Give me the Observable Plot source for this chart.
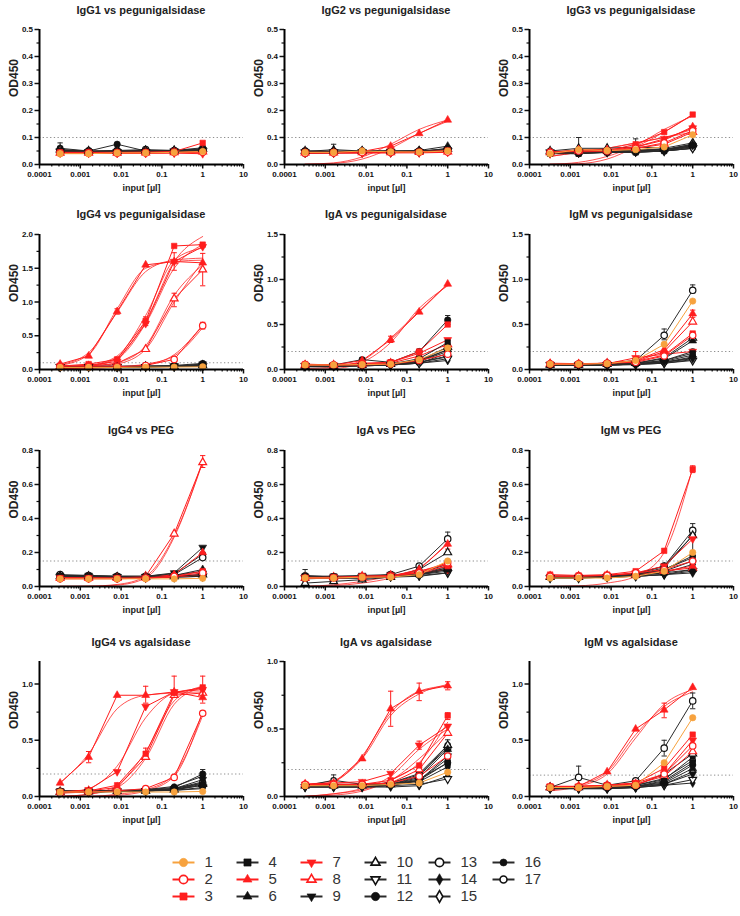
<!DOCTYPE html>
<html><head><meta charset="utf-8">
<script src="https://cdn.jsdelivr.net/npm/d3@7"></script>
<script src="https://cdn.jsdelivr.net/npm/@observablehq/plot@0.6"></script>
<style>
body{margin:0;background:#fff;font-family:"Liberation Sans",Arial,sans-serif;}
#root{position:relative;width:740px;height:916px;overflow:hidden;background:#fff}
.panel{position:absolute}
.title{position:absolute;width:204px;text-align:center;font-weight:bold;font-size:11px;color:#222;line-height:12px;white-space:nowrap}
</style></head><body><div id="root"></div>
<script>
// ---------- data ----------
const inputs = [0.00032, 0.0016, 0.008, 0.04, 0.2, 1];
const xTickValues = [0.0001, 0.001, 0.01, 0.1, 1, 10];
const xTickLabels = ["0.0001", "0.001", "0.01", "0.1", "1", "10"];
const seriesNames = ["1","2","3","4","5","6","7","8","9","10","11","12","13","14","15","16","17"];
const panelTitles = ["IgG1 vs pegunigalsidase","IgG2 vs pegunigalsidase","IgG3 vs pegunigalsidase",
  "IgG4 vs pegunigalsidase","IgA vs pegunigalsidase","IgM vs pegunigalsidase",
  "IgG4 vs PEG","IgA vs PEG","IgM vs PEG",
  "IgG4 vs agalsidase","IgA vs agalsidase","IgM vs agalsidase"];
const panelYMax = [0.5,0.5,0.5, 2.0,1.5,1.5, 0.8,0.8,0.8, 1.2,1.0,1.2];
const panelYStep = [0.1,0.1,0.1, 0.5,0.5,0.5, 0.2,0.2,0.2, 0.5,0.5,0.5];
const panelThreshold = [0.1,0.1,0.1, 0.1,0.2,0.2, 0.15,0.15,0.15, 0.2,0.2,0.19];

const igG1Peg = [
 [0.040,0.040,0.043,0.043,0.045,0.048],[0.042,0.042,0.042,0.043,0.044,0.045],[0.045,0.045,0.045,0.046,0.048,0.080],
 [0.050,0.048,0.048,0.048,0.049,0.052],[0.045,0.044,0.044,0.045,0.046,0.050],[0.048,0.046,0.046,0.047,0.048,0.055],
 [0.042,0.041,0.041,0.041,0.042,0.040],[0.043,0.043,0.043,0.044,0.045,0.048],[0.050,0.047,0.048,0.048,0.050,0.055],
 [0.055,0.050,0.050,0.052,0.052,0.058],[0.048,0.046,0.046,0.047,0.048,0.050],[0.060,0.050,0.075,0.050,0.052,0.062],
 [0.052,0.050,0.052,0.055,0.052,0.055],[0.047,0.045,0.046,0.046,0.047,0.050],[0.050,0.048,0.049,0.050,0.050,0.052],
 [0.055,0.048,0.050,0.050,0.050,0.058],[0.050,0.047,0.048,0.049,0.050,0.053]];
const igG2Peg = [
 [0.045,0.045,0.050,0.047,0.046,0.050],[0.042,0.043,0.044,0.044,0.045,0.046],[0.045,0.045,0.046,0.046,0.047,0.052],
 [0.048,0.047,0.047,0.047,0.048,0.052],[0.045,0.045,0.048,0.068,0.115,0.165],[0.048,0.055,0.050,0.050,0.052,0.068],
 [0.042,0.042,0.042,0.043,0.043,0.045],[0.044,0.044,0.045,0.045,0.046,0.048],[0.046,0.046,0.046,0.047,0.048,0.055],
 [0.050,0.050,0.050,0.050,0.050,0.058],[0.045,0.045,0.046,0.046,0.047,0.050],[0.040,0.045,0.046,0.046,0.047,0.060],
 [0.050,0.048,0.050,0.050,0.050,0.055],[0.044,0.044,0.045,0.045,0.046,0.050],[0.046,0.046,0.047,0.047,0.048,0.052],
 [0.042,0.043,0.044,0.045,0.046,0.050],[0.047,0.047,0.048,0.048,0.049,0.053]];
const igG3Peg = [
 [0.040,0.055,0.052,0.055,0.065,0.110],[0.045,0.050,0.050,0.060,0.080,0.125],[0.045,0.050,0.050,0.075,0.120,0.185],
 [0.040,0.040,0.045,0.045,0.050,0.070],[0.045,0.055,0.055,0.065,0.090,0.140],[0.045,0.045,0.048,0.050,0.055,0.075],
 [0.040,0.045,0.050,0.065,0.095,0.135],[0.045,0.050,0.050,0.060,0.075,0.120],[0.045,0.045,0.048,0.050,0.055,0.070],
 [0.050,0.060,0.060,0.065,0.060,0.080],[0.045,0.045,0.046,0.048,0.050,0.060],[0.042,0.040,0.045,0.045,0.050,0.065],
 [0.048,0.050,0.050,0.055,0.055,0.070],[0.040,0.042,0.045,0.046,0.050,0.060],[0.045,0.046,0.048,0.050,0.055,0.065],
 [0.042,0.045,0.046,0.048,0.050,0.060],[0.047,0.050,0.050,0.052,0.055,0.075]];
const igG4Peg = [
 [0.030,0.030,0.030,0.035,0.035,0.040],[0.040,0.040,0.040,0.060,0.150,0.650],[0.050,0.080,0.150,0.720,1.830,1.850],
 [0.040,0.040,0.040,0.040,0.045,0.060],[0.080,0.200,0.860,1.550,1.600,1.580],[0.040,0.040,0.040,0.045,0.050,0.070],
 [0.050,0.060,0.120,0.680,1.600,1.820],[0.050,0.050,0.090,0.300,1.050,1.480],[0.040,0.040,0.040,0.045,0.050,0.080],
 [0.040,0.040,0.040,0.040,0.045,0.060],[0.040,0.040,0.040,0.040,0.045,0.050],[0.050,0.050,0.050,0.050,0.060,0.090],
 [0.040,0.040,0.045,0.050,0.050,0.060],[0.040,0.040,0.040,0.040,0.045,0.050],[0.040,0.040,0.040,0.045,0.045,0.055],
 [0.040,0.040,0.040,0.040,0.050,0.070],[0.040,0.040,0.040,0.045,0.050,0.060]];
const igAPeg = [
 [0.050,0.050,0.055,0.060,0.110,0.240],[0.050,0.050,0.050,0.060,0.100,0.170],[0.060,0.050,0.070,0.080,0.200,0.500],
 [0.040,0.040,0.050,0.060,0.120,0.300],[0.050,0.050,0.100,0.330,0.640,0.950],[0.040,0.040,0.045,0.060,0.100,0.220],
 [0.050,0.050,0.060,0.080,0.180,0.330],[0.050,0.050,0.060,0.070,0.150,0.280],[0.040,0.040,0.050,0.060,0.090,0.200],
 [0.040,0.040,0.050,0.060,0.100,0.250],[0.040,0.040,0.040,0.050,0.070,0.120],[0.050,0.050,0.110,0.080,0.200,0.550],
 [0.050,0.050,0.050,0.060,0.080,0.150],[0.030,0.030,0.040,0.050,0.070,0.100],[0.040,0.040,0.040,0.050,0.080,0.140],
 [0.040,0.040,0.050,0.050,0.070,0.180],[0.040,0.040,0.050,0.060,0.090,0.220]];
const igMPeg = [
 [0.060,0.060,0.065,0.100,0.280,0.760],[0.060,0.060,0.070,0.080,0.150,0.380],[0.060,0.060,0.070,0.090,0.160,0.400],
 [0.050,0.050,0.055,0.060,0.100,0.180],[0.070,0.065,0.070,0.100,0.220,0.620],[0.050,0.050,0.060,0.070,0.120,0.320],
 [0.060,0.060,0.065,0.130,0.170,0.200],[0.060,0.060,0.070,0.090,0.200,0.530],[0.050,0.050,0.050,0.060,0.080,0.120],
 [0.050,0.050,0.060,0.070,0.130,0.350],[0.050,0.050,0.050,0.055,0.070,0.100],[0.050,0.050,0.050,0.060,0.080,0.140],
 [0.060,0.060,0.070,0.100,0.380,0.880],[0.050,0.050,0.050,0.055,0.070,0.110],[0.050,0.050,0.050,0.060,0.080,0.130],
 [0.050,0.050,0.050,0.060,0.090,0.160],[0.050,0.050,0.060,0.070,0.100,0.200]];
const igG4PEG = [
 [0.045,0.045,0.045,0.045,0.045,0.048],[0.045,0.045,0.045,0.050,0.060,0.080],[0.050,0.050,0.050,0.050,0.060,0.090],
 [0.060,0.060,0.055,0.055,0.060,0.070],[0.050,0.050,0.050,0.050,0.070,0.200],[0.060,0.055,0.055,0.055,0.065,0.100],
 [0.050,0.050,0.050,0.050,0.055,0.070],[0.050,0.050,0.050,0.060,0.310,0.730],[0.065,0.065,0.060,0.060,0.080,0.230],
 [0.060,0.060,0.055,0.055,0.060,0.070],[0.055,0.055,0.055,0.055,0.055,0.060],[0.060,0.060,0.055,0.055,0.060,0.065],
 [0.070,0.065,0.060,0.060,0.070,0.170],[0.055,0.055,0.050,0.050,0.055,0.060],[0.060,0.055,0.055,0.055,0.060,0.065],
 [0.060,0.060,0.055,0.055,0.065,0.090],[0.065,0.060,0.060,0.060,0.075,0.190]];
const igAPEG = [
 [0.050,0.050,0.055,0.055,0.070,0.150],[0.050,0.050,0.055,0.060,0.080,0.140],[0.050,0.055,0.060,0.065,0.080,0.120],
 [0.060,0.060,0.060,0.065,0.070,0.100],[0.050,0.050,0.055,0.060,0.100,0.250],[0.050,0.050,0.050,0.055,0.070,0.110],
 [0.055,0.055,0.060,0.065,0.080,0.100],[0.050,0.055,0.060,0.065,0.090,0.130],[0.060,0.060,0.065,0.070,0.070,0.090],
 [0.020,0.030,0.040,0.055,0.100,0.200],[0.050,0.050,0.055,0.060,0.065,0.080],[0.065,0.055,0.050,0.060,0.070,0.120],
 [0.050,0.050,0.055,0.070,0.120,0.280],[0.045,0.050,0.050,0.055,0.060,0.080],[0.050,0.050,0.055,0.060,0.070,0.110],
 [0.055,0.055,0.060,0.060,0.070,0.100],[0.050,0.055,0.060,0.065,0.080,0.130]];
const igMPEG = [
 [0.050,0.050,0.050,0.060,0.090,0.200],[0.060,0.060,0.065,0.080,0.100,0.150],[0.070,0.065,0.070,0.090,0.210,0.690],
 [0.055,0.055,0.060,0.070,0.100,0.170],[0.060,0.060,0.065,0.075,0.090,0.120],[0.055,0.055,0.060,0.065,0.080,0.100],
 [0.060,0.060,0.065,0.080,0.120,0.280],[0.060,0.060,0.065,0.070,0.090,0.110],[0.055,0.055,0.055,0.060,0.070,0.080],
 [0.055,0.055,0.060,0.070,0.110,0.300],[0.050,0.050,0.055,0.060,0.070,0.090],[0.055,0.055,0.060,0.065,0.090,0.150],
 [0.060,0.060,0.065,0.075,0.120,0.330],[0.050,0.050,0.055,0.060,0.070,0.100],[0.055,0.055,0.060,0.065,0.080,0.130],
 [0.060,0.060,0.060,0.070,0.100,0.180],[0.060,0.060,0.065,0.075,0.120,0.300]];
const igG4Agal = [
 [0.040,0.040,0.040,0.040,0.040,0.045],[0.030,0.040,0.050,0.070,0.170,0.740],[0.040,0.050,0.100,0.380,0.920,0.970],
 [0.040,0.040,0.045,0.050,0.060,0.100],[0.120,0.350,0.900,0.900,0.930,0.880],[0.040,0.040,0.045,0.050,0.060,0.120],
 [0.040,0.060,0.220,0.800,0.930,0.950],[0.040,0.050,0.080,0.350,0.900,0.920],[0.050,0.050,0.050,0.055,0.070,0.150],
 [0.040,0.045,0.050,0.050,0.060,0.110],[0.040,0.040,0.045,0.050,0.055,0.080],[0.050,0.050,0.055,0.060,0.080,0.200],
 [0.040,0.045,0.050,0.055,0.070,0.120],[0.040,0.040,0.045,0.050,0.055,0.070],[0.040,0.045,0.050,0.050,0.060,0.100],
 [0.050,0.050,0.050,0.060,0.090,0.180],[0.045,0.045,0.050,0.055,0.070,0.130]];
const igAAgal = [
 [0.080,0.080,0.080,0.090,0.100,0.180],[0.090,0.090,0.090,0.100,0.150,0.300],[0.080,0.090,0.090,0.120,0.230,0.600],
 [0.080,0.080,0.080,0.090,0.120,0.250],[0.090,0.100,0.280,0.650,0.780,0.820],[0.080,0.080,0.080,0.090,0.140,0.350],
 [0.090,0.100,0.110,0.170,0.380,0.520],[0.090,0.090,0.090,0.100,0.200,0.470],[0.070,0.070,0.070,0.080,0.120,0.300],
 [0.080,0.080,0.080,0.090,0.150,0.380],[0.070,0.070,0.070,0.080,0.090,0.130],[0.080,0.080,0.080,0.090,0.130,0.250],
 [0.080,0.090,0.090,0.100,0.160,0.360],[0.070,0.070,0.070,0.070,0.080,0.150],[0.080,0.080,0.080,0.090,0.120,0.280],
 [0.080,0.080,0.080,0.090,0.110,0.220],[0.080,0.120,0.090,0.100,0.170,0.380]];
const igMAgal = [
 [0.080,0.080,0.090,0.100,0.300,0.700],[0.080,0.080,0.090,0.100,0.200,0.450],[0.090,0.090,0.100,0.120,0.250,0.550],
 [0.080,0.080,0.080,0.090,0.140,0.300],[0.080,0.090,0.220,0.600,0.770,0.970],[0.080,0.080,0.080,0.090,0.120,0.250],
 [0.090,0.090,0.100,0.120,0.200,0.500],[0.080,0.090,0.100,0.110,0.180,0.400],[0.070,0.070,0.070,0.080,0.110,0.200],
 [0.080,0.080,0.090,0.100,0.200,0.380],[0.070,0.070,0.070,0.080,0.100,0.150],[0.080,0.080,0.080,0.090,0.130,0.280],
 [0.080,0.170,0.100,0.140,0.430,0.850],[0.070,0.070,0.070,0.080,0.100,0.120],[0.080,0.080,0.080,0.090,0.110,0.220],
 [0.080,0.080,0.090,0.100,0.150,0.350],[0.080,0.080,0.090,0.100,0.160,0.320]];

// fitted curves read at the six inputs: [series, values...]
const igG1PegFits = [];
const igG2PegFits = [[5,0.001,0.006,0.028,0.075,0.130,0.165],[5,0.001,0.004,0.020,0.060,0.115,0.160]];
const igG3PegFits = [[3,0.001,0.008,0.030,0.070,0.130,0.180],[3,0.001,0.003,0.020,0.065,0.120,0.185],[7,0.030,0.045,0.060,0.080,0.100,0.130],[2,0.030,0.045,0.060,0.080,0.100,0.120]];
const igG4PegFits = [[5,0.070,0.250,0.850,1.450,1.620,1.650],[5,0.060,0.220,0.900,1.500,1.600,1.620],
  [3,0.020,0.050,0.180,0.720,1.600,1.970],[3,0.030,0.060,0.200,0.800,1.620,1.800],[7,0.030,0.050,0.160,0.680,1.500,1.850],
  [8,0.020,0.040,0.100,0.350,1.100,1.550],[8,0.010,0.030,0.080,0.300,1.000,1.600],[2,0.020,0.020,0.040,0.080,0.200,0.620],[2,0.010,0.020,0.030,0.070,0.220,0.660]];
const igAPegFits = [[5,0.001,0.010,0.080,0.300,0.680,0.930],[5,0.010,0.030,0.100,0.350,0.650,0.950]];
const igMPegFits = [];
const igG4PEGFits = [[8,0.001,0.002,0.012,0.060,0.300,0.730],[8,0.001,0.001,0.008,0.050,0.290,0.740]];
const igAPEGFits = [[5,0.001,0.005,0.020,0.050,0.110,0.260],[2,0.001,0.010,0.030,0.060,0.090,0.140]];
const igMPEGFits = [[3,0.001,0.004,0.020,0.060,0.200,0.700]];
const igG4AgalFits = [[5,0.120,0.380,0.780,0.900,0.920,0.930],[7,0.030,0.070,0.270,0.700,0.920,0.960],[3,0.001,0.020,0.100,0.400,0.850,0.980],
  [8,0.001,0.020,0.080,0.340,0.820,0.970],[2,0.001,0.001,0.020,0.060,0.200,0.720],[2,0.001,0.001,0.010,0.050,0.180,0.760]];
const igAAgalFits = [[5,0.080,0.110,0.300,0.620,0.780,0.820],[5,0.090,0.120,0.280,0.600,0.760,0.830],[7,0.001,0.020,0.060,0.150,0.350,0.500],
  [3,0.001,0.010,0.040,0.120,0.250,0.550],[8,0.001,0.020,0.050,0.120,0.280,0.480]];
const igMAgalFits = [[5,0.060,0.100,0.220,0.550,0.800,0.930],[5,0.050,0.090,0.200,0.520,0.820,0.950]];

// error bars: [series, input index, low, high]
const igG1PegErr = [[12,0,0.05,0.08],[12,1,0.045,0.06]];
const igG2PegErr = [[6,1,0.045,0.075]];
const igG3PegErr = [[10,1,0.05,0.10],[10,3,0.06,0.095]];
const igG4PegErr = [[7,4,1.47,1.73],[8,4,0.93,1.13],[8,5,1.24,1.72],[3,3,0.65,0.78],[5,2,0.82,0.90],[2,5,0.60,0.70]];
const igAPegErr = [[12,5,0.50,0.60],[12,2,0.09,0.13],[5,3,0.30,0.37]];
const igMPegErr = [[13,4,0.33,0.45],[13,5,0.85,0.94],[7,3,0.08,0.20],[5,5,0.58,0.66]];
const igG4PEGErr = [[8,5,0.70,0.77]];
const igAPEGErr = [[12,0,0.03,0.10],[13,5,0.24,0.32],[5,5,0.22,0.28]];
const igMPEGErr = [[3,5,0.67,0.71],[13,5,0.29,0.37],[10,5,0.20,0.33]];
const igG4AgalErr = [[5,1,0.30,0.40],[5,3,0.83,0.98],[7,4,0.88,1.07],[3,5,0.90,1.07],[3,3,0.33,0.43],[12,5,0.16,0.24],[5,5,0.83,0.92],[2,5,0.72,0.76]];
const igAAgalErr = [[5,3,0.52,0.78],[5,4,0.71,0.84],[5,5,0.79,0.85],[17,1,0.10,0.16],[7,4,0.35,0.41],[3,5,0.57,0.62],[10,5,0.33,0.42]];
const igMAgalErr = [[13,1,0.10,0.27],[5,4,0.70,0.83],[13,5,0.78,0.92],[13,4,0.36,0.50]];

const panelValues = [igG1Peg,igG2Peg,igG3Peg,igG4Peg,igAPeg,igMPeg,igG4PEG,igAPEG,igMPEG,igG4Agal,igAAgal,igMAgal];
const panelFits = [igG1PegFits,igG2PegFits,igG3PegFits,igG4PegFits,igAPegFits,igMPegFits,igG4PEGFits,igAPEGFits,igMPEGFits,igG4AgalFits,igAAgalFits,igMAgalFits];
const panelErrors = [igG1PegErr,igG2PegErr,igG3PegErr,igG4PegErr,igAPegErr,igMPegErr,igG4PEGErr,igAPEGErr,igMPEGErr,igG4AgalErr,igAAgalErr,igMAgalErr];

// ---------- styling ----------
const ORANGE = "#F7A23E", RED = "#FF1E1E", BLACK = "#111111";
const triangleDown = {draw(ctx, size) {
  const y = -Math.sqrt(size / (Math.sqrt(3) * 3)), s3 = Math.sqrt(3);
  ctx.moveTo(0, -y * 2); ctx.lineTo(-s3 * y, y); ctx.lineTo(s3 * y, y); ctx.closePath();
}};
const hline = {draw(ctx, size) { const r = Math.sqrt(size) / 2; ctx.moveTo(-r, 0); ctx.lineTo(r, 0); }};
function seriesStyle(s) { // s: 0-based
  const col = s === 0 ? ORANGE : [1,2,4,6,7].includes(s) ? RED : BLACK;
  const shapes = [d3.symbolCircle,d3.symbolCircle,d3.symbolSquare,d3.symbolSquare,d3.symbolTriangle,d3.symbolTriangle,
    triangleDown,d3.symbolTriangle,triangleDown,d3.symbolTriangle,triangleDown,d3.symbolCircle,d3.symbolCircle,
    d3.symbolDiamond,d3.symbolDiamond,d3.symbolCircle,d3.symbolCircle];
  const open = [1,7,9,10,12,14,16].includes(s);
  const sym = shapes[s];
  let r = 3.2;
  if (sym === d3.symbolSquare) r = 3.1;
  if (sym === d3.symbolTriangle || sym === triangleDown) r = 2.9;
  if (sym === d3.symbolDiamond) r = 2.7;
  if (s === 15 || s === 16) r = 2.7;
  return {col, sym, open, r, line: col === BLACK ? "#2a2a2a" : col};
}

// ---------- layout ----------
const colLeft = [0, 245, 490];
const rowLayout = [{top:18, mt:11, mb:34, title:4}, {top:222, mt:12, mb:33, title:208}, {top:438, mt:12, mb:32, title:424}, {top:650, mt:11, mb:34, title:636}];
const root = document.getElementById("root");
const xMinor = [];
for (let e = -4; e <= 0; e++) for (let k = 2; k <= 9; k++) xMinor.push(k * Math.pow(10, e));

function panelPlot(k) {
  const vals = panelValues[k], fits = panelFits[k], errs = panelErrors[k];
  const yMax = panelYMax[k], step = panelYStep[k], minor = step / 2;
  const nMinor = Math.floor(yMax / minor + 1e-6);
  const allY = d3.range(0, nMinor + 1).map(i => +(i * minor).toFixed(4));
  const yMajor = allY.filter((v, i) => i % 2 === 0);
  const yMinor = allY.filter((v, i) => i % 2 === 1);
  const L = rowLayout[Math.floor(k / 3)];
  const marks = [];
  marks.push(Plot.ruleY([panelThreshold[k]], {stroke: "#8f8f8f", strokeDasharray: "1.3,2.4", strokeWidth: 1}));
  const order = d3.range(16, -1, -1);
  fits.forEach((f) => {
    const st = seriesStyle(f[0] - 1);
    const pts = f.slice(1).map((v, i) => ({x: inputs[i], y: v}));
    marks.push(Plot.line(pts, {x: "x", y: "y", stroke: st.line, strokeWidth: 0.9, strokeOpacity: 0.85, curve: "monotone-x"}));
  });
  for (const s of order) {
    const st = seriesStyle(s);
    const pts = vals[s].map((v, i) => ({x: inputs[i], y: v}));
    marks.push(Plot.line(pts, {x: "x", y: "y", stroke: st.line, strokeWidth: 1}));
  }
  errs.forEach(e => {
    const st = seriesStyle(e[0] - 1);
    const d = [{x: inputs[e[1]], lo: e[2], hi: e[3]}];
    marks.push(Plot.ruleX(d, {x: "x", y1: "lo", y2: "hi", stroke: st.line, strokeWidth: 1}));
    marks.push(Plot.dot(d, {x: "x", y: "hi", symbol: hline, r: 3, stroke: st.line, fill: "none", strokeWidth: 1}));
    marks.push(Plot.dot(d, {x: "x", y: "lo", symbol: hline, r: 3, stroke: st.line, fill: "none", strokeWidth: 1}));
  });
  for (const s of order) {
    const st = seriesStyle(s);
    const pts = vals[s].map((v, i) => ({x: inputs[i], y: v}));
    marks.push(Plot.dot(pts, {x: "x", y: "y", symbol: st.sym, r: st.r,
      fill: st.open ? "white" : st.col, stroke: st.col, strokeWidth: st.open ? 1.2 : 0.6}));
  }
  marks.push(Plot.axisX({ticks: xMinor, tickSize: 2.5, tickFormat: () => "", label: null, strokeWidth: 1.2}));
  marks.push(Plot.axisX({ticks: xTickValues, tickSize: 4.5, tickPadding: 2.5, label: null, strokeWidth: 1.5,
    tickFormat: d => xTickLabels[xTickValues.indexOf(d)]}));
  marks.push(Plot.axisY({ticks: yMinor, tickSize: 2.5, tickFormat: () => "", label: null, strokeWidth: 1.2}));
  marks.push(Plot.axisY({ticks: yMajor, tickSize: 4.5, tickPadding: 2, label: null, strokeWidth: 1.5, tickFormat: d3.format(".1f")}));
  marks.push(Plot.ruleY([0], {stroke: "#000", strokeWidth: 2}));
  marks.push(Plot.ruleX([0.0001], {stroke: "#000", strokeWidth: 2}));
  marks.push(Plot.text(["input [µl]"], {frameAnchor: "bottom", dy: 26, fontSize: 9, fontWeight: "bold", fill: "#222"}));
  marks.push(Plot.text(["OD450"], {frameAnchor: "left", dx: -25, rotate: -90, fontSize: 12, fontWeight: "bold", fill: "#222"}));
  const plot = Plot.plot({
    width: 250, height: 180,
    marginLeft: 39, marginRight: 7, marginTop: L.mt, marginBottom: L.mb,
    x: {type: "log", domain: [0.0001, 10]},
    y: {domain: [0, yMax]},
    style: {fontFamily: "'Liberation Sans', Arial, sans-serif", fontSize: "8px", fontWeight: "bold", color: "#111", background: "transparent", overflow: "visible"},
    marks
  });
  const div = document.createElement("div");
  div.className = "panel";
  div.style.left = colLeft[k % 3] + "px";
  div.style.top = L.top + "px";
  div.appendChild(plot);
  root.appendChild(div);
  const t = document.createElement("div");
  t.className = "title";
  t.textContent = panelTitles[k];
  t.style.left = (colLeft[k % 3] + 39) + "px";
  t.style.top = L.title + "px";
  root.appendChild(t);
}
for (let k = 0; k < 12; k++) panelPlot(k);

// ---------- legend ----------
const legendRows = seriesNames.map((n, i) => ({name: n, s: i, col: Math.floor(i / 3), row: i % 3}));
const legendMarks = [];
for (const d of legendRows) {
  const st = seriesStyle(d.s);
  const tri = st.sym === d3.symbolTriangle || st.sym === triangleDown;
  legendMarks.push(Plot.dot([d], {x: "col", y: "row", symbol: hline, r: 12.4, stroke: st.line, strokeWidth: 2, fill: "none"}));
  legendMarks.push(Plot.dot([d], {x: "col", y: "row", symbol: st.sym, r: st.r * (tri ? 1.15 : 1.3),
    fill: st.open ? "white" : st.col, stroke: st.col, strokeWidth: st.open ? 1.6 : 0.6}));
  legendMarks.push(Plot.text([d], {x: "col", y: "row", text: "name", dx: 21, textAnchor: "start", fontSize: 15, fill: "#333"}));
}
const legend = Plot.plot({
  width: 740, height: 80, margin: 0,
  x: {type: "point", domain: d3.range(6), range: [150, 535], axis: null},
  y: {type: "point", domain: [0, 1, 2], range: [17, 70], axis: null},
  style: {fontFamily: "'Liberation Sans', Arial, sans-serif", background: "transparent", overflow: "visible"},
  marks: legendMarks
});
const ld = document.createElement("div");
ld.className = "panel";
ld.style.left = "0px"; ld.style.top = "835px";
ld.appendChild(legend);
root.appendChild(ld);
</script>
</body></html>
